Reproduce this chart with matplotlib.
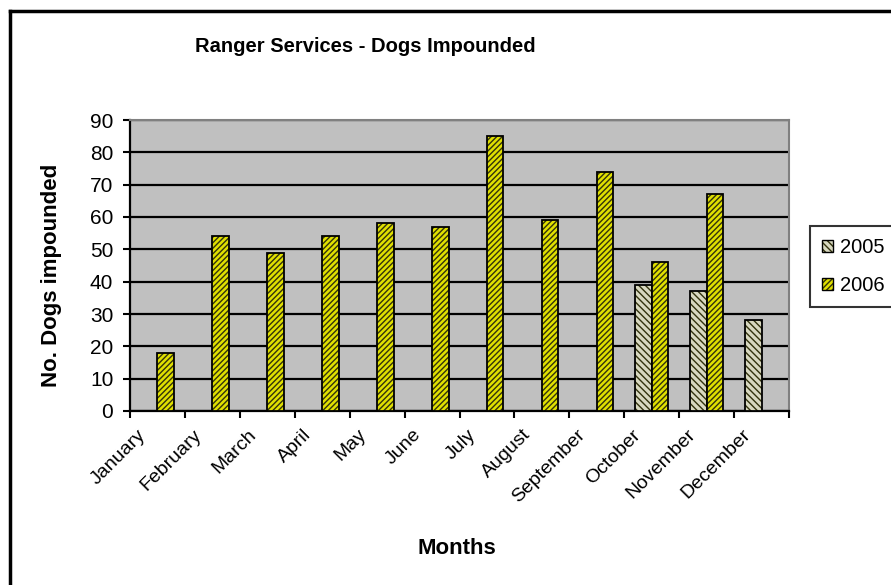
import matplotlib
matplotlib.use("Agg")
import matplotlib.pyplot as plt
import matplotlib.transforms as mtransforms
from matplotlib.patches import Patch
import numpy as np

plt.rcParams['font.family'] = ['Liberation Sans', 'DejaVu Sans']
plt.rcParams['hatch.linewidth'] = 1.0

months = ["January", "February", "March", "April", "May", "June", "July",
          "August", "September", "October", "November", "December"]
dogs_2005 = [0, 0, 0, 0, 0, 0, 0, 0, 0, 39, 37, 28]
dogs_2006 = [18, 54, 49, 54, 58, 57, 85, 59, 74, 46, 67, 0]

col_2005 = '#d8d8c0'
col_2006 = '#e0e000'
hatch_2005 = '\\\\\\\\\\'
hatch_2006 = '//////'
hatch_col = (0.2, 0.2, 0.05, 1.0)

fig = plt.figure(figsize=(8.91, 5.85), dpi=100)
ax = fig.add_axes([130 / 891, 1 - 411 / 585, 659 / 891, 291 / 585])
ax.set_facecolor('#c0c0c0')

x = np.arange(len(months))
w = 0.3

# only draw the bars that have a value
for i in x:
    if dogs_2005[i] > 0:
        ax.bar(i - w / 2, dogs_2005[i], w, color=col_2005, edgecolor='black',
               linewidth=1.3, hatch=hatch_2005, zorder=3)
    if dogs_2006[i] > 0:
        ax.bar(i + w / 2, dogs_2006[i], w, color=col_2006, edgecolor='black',
               linewidth=1.3, hatch=hatch_2006, zorder=3)

for bar in ax.patches:
    bar._hatch_color = hatch_col

ax.set_xlim(-0.5, 11.5)
ax.set_ylim(0, 90)
ax.set_yticks(range(0, 91, 10))
ax.yaxis.grid(True, color='black', linewidth=1.6, zorder=1)
ax.set_axisbelow(True)

# tick marks between months, labels under the months
ax.set_xticks(np.arange(-0.5, 12, 1))
ax.set_xticklabels([])
ax.set_xticks(x, minor=True)
ax.set_xticklabels(months, minor=True, rotation=45, ha='right',
                   rotation_mode='anchor', fontsize=14)
ax.tick_params(axis='x', which='minor', length=0, pad=11)
ax.tick_params(axis='x', which='major', length=5, width=1.5, direction='out')
ax.tick_params(axis='y', length=5, width=1.5, direction='out', labelsize=15, pad=7)

shift = mtransforms.ScaledTranslation(-20 / 100, 0, fig.dpi_scale_trans)
for lbl in ax.get_xticklabels(minor=True):
    lbl.set_transform(lbl.get_transform() + shift)

for side in ['top', 'right']:
    ax.spines[side].set_color('#808080')
    ax.spines[side].set_linewidth(1.5)
for side in ['left', 'bottom']:
    ax.spines[side].set_color('black')
    ax.spines[side].set_linewidth(1.6)

fig.text(52 / 891, 1 - 275 / 585, "No. Dogs impounded", fontsize=16, fontweight='bold',
         rotation=90, ha='center', va='center')
fig.text(457 / 891, 1 - 548 / 585, "Months", fontsize=16, fontweight='bold',
         ha='center', va='center')
fig.text(365 / 891, 1 - 47 / 585, "Ranger Services - Dogs Impounded",
         fontsize=14.5, fontweight='bold', ha='center', va='center')

handles = [Patch(facecolor=col_2005, edgecolor='black', hatch=hatch_2005, label='2005'),
           Patch(facecolor=col_2006, edgecolor='black', hatch=hatch_2006, label='2006')]
leg = fig.legend(handles=handles, loc='upper left',
                 bbox_to_anchor=(810 / 891, 1 - 226 / 585), fontsize=14.5,
                 frameon=True, fancybox=False, handlelength=0.55, handleheight=0.55,
                 handletextpad=0.35, borderpad=0.6, labelspacing=0.95,
                 borderaxespad=0)
leg.get_frame().set_edgecolor('black')
leg.get_frame().set_linewidth(1.5)
for p in leg.get_patches():
    p._hatch_color = hatch_col

# chart area border (left and top)
fig.add_artist(plt.Line2D([10 / 891, 10 / 891], [0, 1 - 11 / 585], color='black',
                          linewidth=2.5, transform=fig.transFigure))
fig.add_artist(plt.Line2D([10 / 891, 1], [1 - 11 / 585, 1 - 11 / 585], color='black',
                          linewidth=2.5, transform=fig.transFigure))

fig.savefig("out.png", dpi=100)
